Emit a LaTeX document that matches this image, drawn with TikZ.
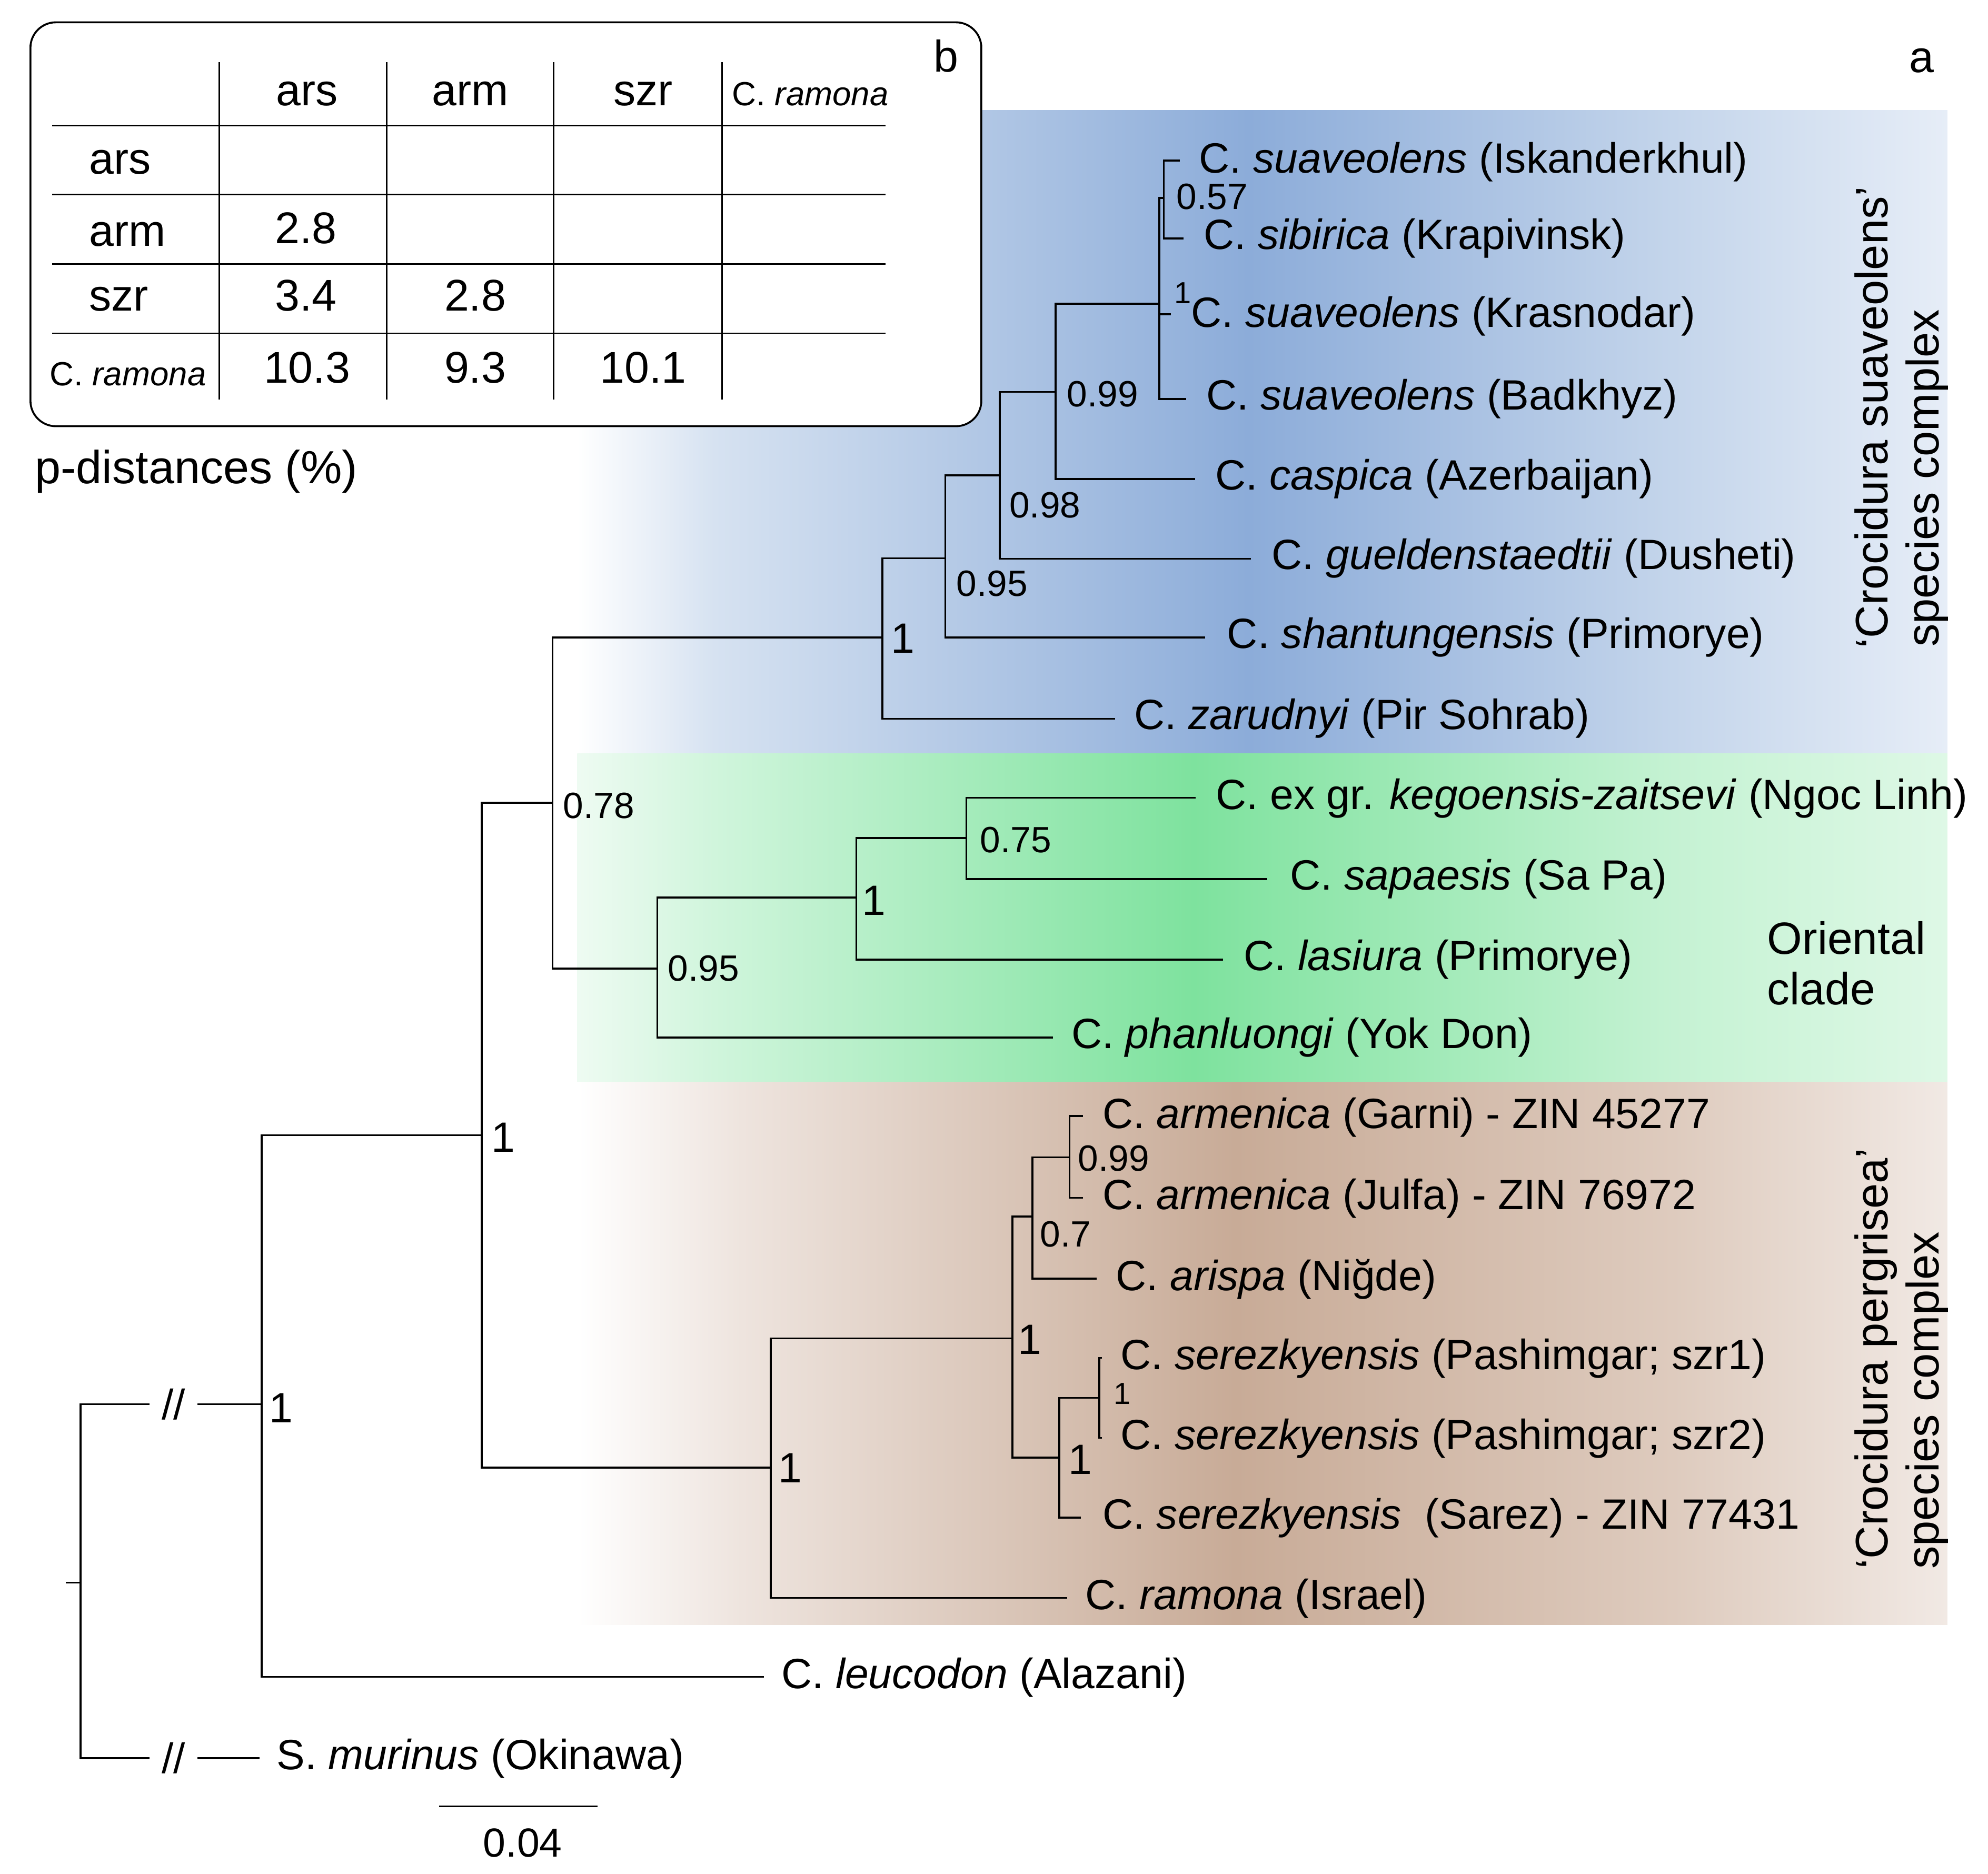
\documentclass[tikz,border=0pt]{standalone}
\usepackage{fontspec}
\setmainfont{Liberation Sans}
\newcommand\fsp{\fontsize{16.7}{19}\selectfont}
\newcommand\fsup{\fontsize{14.4}{16}\selectfont}
\newcommand\fsm{\fontsize{12}{14}\selectfont}
\newcommand\ftb{\fontsize{17.5}{20}\selectfont}
\newcommand\frot{\fontsize{18}{20}\selectfont}
\newcommand\ftbs{\fontsize{13.2}{15}\selectfont}
\newcommand\fbig{\fontsize{17.8}{20}\selectfont}
\newcommand\fpd{\fontsize{18.3}{20}\selectfont}
\newcommand\fsc{\fontsize{16}{19}\selectfont}
\definecolor{bl1}{RGB}{214,226,241}
\definecolor{blP}{RGB}{140,172,217}
\definecolor{bl2}{RGB}{196,213,235}
\definecolor{bl3}{RGB}{230,237,247}
\definecolor{gr0}{RGB}{238,251,242}
\definecolor{gr1}{RGB}{208,245,220}
\definecolor{grP}{RGB}{126,226,158}
\definecolor{gr2}{RGB}{197,242,211}
\definecolor{gr3}{RGB}{222,248,230}
\definecolor{br1}{RGB}{238,228,222}
\definecolor{brP}{RGB}{200,171,151}
\definecolor{br2}{RGB}{222,203,190}
\definecolor{br3}{RGB}{241,233,228}
\pgfdeclarehorizontalshading{blueshade}{100bp}{color(0bp)=(white); color(25bp)=(white); color(30bp)=(bl1); color(49.5bp)=(blP); color(65bp)=(bl2); color(75bp)=(bl3); color(100bp)=(bl3)}
\pgfdeclarehorizontalshading{greenshade}{100bp}{color(0bp)=(gr0); color(25bp)=(gr0); color(30bp)=(gr1); color(47.5bp)=(grP); color(65bp)=(gr2); color(75bp)=(gr3); color(100bp)=(gr3)}
\pgfdeclarehorizontalshading{brownshade}{100bp}{color(0bp)=(white); color(25bp)=(white); color(31bp)=(br1); color(49bp)=(brP); color(65bp)=(br2); color(75bp)=(br3); color(100bp)=(br3)}
\begin{document}
\begin{tikzpicture}[x=0.5pt,y=-0.5pt,
  br/.style={line width=0.72pt},
  tbl/.style={line width=0.6pt},
  lab/.style={inner sep=0pt, outer sep=0pt, anchor=base west, font=\fsp},
  sup/.style={inner sep=0pt, outer sep=0pt, anchor=base west, font=\fsup},
  supS/.style={inner sep=0pt, outer sep=0pt, anchor=base west, font=\fsm},
  supL/.style={inner sep=0pt, outer sep=0pt, anchor=base west, font=\fsp},
  tb/.style={inner sep=0pt, outer sep=0pt, anchor=base, font=\ftb},
  tbw/.style={inner sep=0pt, outer sep=0pt, anchor=base west, font=\ftb},
  rot/.style={inner sep=0pt, outer sep=0pt, anchor=base west, rotate=90, font=\frot},
  brk/.style={inner sep=0pt, outer sep=0pt, font=\fsp},
]
\useasboundingbox (0,0) rectangle (1567,1477);
% ---------- backgrounds
\shade[shading=blueshade] (455,87) rectangle (1535,594);
\shade[shading=greenshade] (455,594) rectangle (1535,853);
\shade[shading=brownshade] (455,853) rectangle (1535,1281);

% ---------- table (b)
\draw[line width=0.75pt, fill=white, rounded corners=10pt] (24,17.6) rectangle (773.5,336);
\foreach \yy in {98.8,153.4,208.2,262.7} \draw[tbl] (41,\yy) -- (698,\yy);
\foreach \xx in {173,304.8,436.5,569} \draw[tbl] (\xx,49) -- (\xx,315);
\node[tb] (h1) at (242,83) {ars};
\node[tb] (h2) at (370.6,83) {arm};
\node[tb] (h3) at (507,83) {szr};
\node[tb, font=\ftbs] (h4) at (638.7,83) {C. \textit{ramona}};
\node[tbw] (r1) at (70.4,137) {ars};
\node[tbw] (r2) at (70.4,194) {arm};
\node[tbw] (r3) at (70.4,245) {szr};
\node[tbw, font=\ftbs] (r4) at (39.2,304) {C. \textit{ramona}};
\node[tb] (v21) at (241,192) {2.8};
\node[tb] (v31) at (241,245) {3.4};
\node[tb] (v32) at (374.6,245) {2.8};
\node[tb] (v41) at (242,302) {10.3};
\node[tb] (v42) at (374.6,302) {9.3};
\node[tb] (v43) at (507,302) {10.1};
\node[tb] (lb) at (745.5,56.6) {b};
\node[tb] (la) at (1514.5,57) {a};
\node[tbw, font=\fpd] (pd) at (27.6,381) {p-distances (\%)};

% ---------- tree coordinates
\coordinate (L1) at (930,126.6);
\coordinate (L2) at (933,188);
\coordinate (L3) at (923,247.7);
\coordinate (L4) at (935,314.5);
\coordinate (L5) at (942,377.7);
\coordinate (L6) at (986,440.6);
\coordinate (L7) at (950,502.6);
\coordinate (L8) at (879,566.6);
\coordinate (L9) at (942.5,629);
\coordinate (L10) at (998.7,693);
\coordinate (L11) at (964,756.5);
\coordinate (L12) at (830,818);
\coordinate (L13) at (853.6,879.7);
\coordinate (L14) at (853.6,944.3);
\coordinate (L15) at (864.4,1008);
\coordinate (L16) at (868.5,1070.5);
\coordinate (L17) at (868.5,1133.6);
\coordinate (L18) at (852,1196.3);
\coordinate (L19) at (841,1259.7);
\coordinate (L20) at (602,1322);
\coordinate (L21) at (204.5,1386);

\coordinate (n57) at (917.4,156);
\coordinate (nSua) at (913.7,239.4);
\coordinate (n99) at (832,309);
\coordinate (n98) at (788,374.7);
\coordinate (n95a) at (745,440);
\coordinate (n1a) at (695.6,502.6);
\coordinate (n78) at (435.6,632.8);
\coordinate (nOri) at (518,763.5);
\coordinate (n1b) at (675,707.5);
\coordinate (n75) at (761.6,660.6);
\coordinate (nIn) at (379.8,895);
\coordinate (nPer) at (607.6,1157);
\coordinate (n1c) at (798,1055);
\coordinate (n07) at (813.7,959);
\coordinate (n99b) at (843,912.4);
\coordinate (n1d) at (835,1149);
\coordinate (nszr) at (866.4,1102);
\coordinate (nC) at (206.2,1107);
\coordinate (root) at (63.5,1247.7);
\coordinate (rstub) at (51.7,1247.7);
\coordinate (b1a) at (117.7,1107);
\coordinate (b1b) at (155.8,1107);
\coordinate (b2a) at (117.7,1386);
\coordinate (b2b) at (155.8,1386);

% ---------- branches
\begin{scope}[br]
\draw (n57) |- (L1); \draw (n57) |- (L2);
\draw (nSua) |- (n57); \draw (nSua) |- (L3); \draw (nSua) |- (L4);
\draw (n99) |- (nSua); \draw (n99) |- (L5);
\draw (n98) |- (n99); \draw (n98) |- (L6);
\draw (n95a) |- (n98); \draw (n95a) |- (L7);
\draw (n1a) |- (n95a); \draw (n1a) |- (L8);
\draw (n75) |- (L9); \draw (n75) |- (L10);
\draw (n1b) |- (n75); \draw (n1b) |- (L11);
\draw (nOri) |- (n1b); \draw (nOri) |- (L12);
\draw (n78) |- (n1a); \draw (n78) |- (nOri);
\draw (n99b) |- (L13); \draw (n99b) |- (L14);
\draw (n07) |- (n99b); \draw (n07) |- (L15);
\draw (nszr) |- (L16); \draw (nszr) |- (L17);
\draw (n1d) |- (nszr); \draw (n1d) |- (L18);
\draw (n1c) |- (n07); \draw (n1c) |- (n1d);
\draw (nPer) |- (n1c); \draw (nPer) |- (L19);
\draw (nIn) |- (n78); \draw (nIn) |- (nPer);
\draw (nC) |- (nIn); \draw (nC) |- (L20);
\draw (rstub) -- (root);
\draw (root) |- (b1a); \draw (b1b) -- (nC);
\draw (root) |- (b2a); \draw (b2b) -- (L21);
\end{scope}
\node[brk] (k1) at (136.7,1107) {//};
\node[brk] (k2) at (136.7,1386) {//};

% ---------- scale bar
\coordinate (sb1) at (346,1424);
\coordinate (sb2) at (471,1424);
\draw[br] (sb1) -- (sb2);
\node[tb, font=\fsc] (sbl) at (412,1464) {0.04};

% ---------- leaf labels
\node[lab] (t1) at (945,136.3) {C. \textit{suaveolens} (Iskanderkhul)};
\node[lab] (t2) at (949,196.5) {C. \textit{sibirica} (Krapivinsk)};
\node[lab] (t3) at (939,258) {C. \textit{suaveolens} (Krasnodar)};
\node[lab] (t4) at (951,323) {C. \textit{suaveolens} (Badkhyz)};
\node[lab] (t5) at (958,386) {C. \textit{caspica} (Azerbaijan)};
\node[lab] (t6) at (1002.5,449) {C. \textit{gueldenstaedtii} (Dusheti)};
\node[lab] (t7) at (967.3,511) {C. \textit{shantungensis} (Primorye)};
\node[lab] (t8) at (894,575) {C. \textit{zarudnyi} (Pir Sohrab)};
\node[lab] (t9) at (958.5,638) {C. ex gr. \textit{kegoensis-zaitsevi} (Ngoc Linh)};
\node[lab] (t10) at (1017,701.5) {C. \textit{sapaesis} (Sa Pa)};
\node[lab] (t11) at (980.5,765) {C. \textit{lasiura} (Primorye)};
\node[lab] (t12) at (844.5,826.5) {C. \textit{phanluongi} (Yok Don)};
\node[lab] (t13) at (869,889.5) {C. \textit{armenica} (Garni) - ZIN 45277};
\node[lab] (t14) at (869,953.5) {C. \textit{armenica} (Julfa) - ZIN 76972};
\node[lab] (t15) at (879.7,1017.5) {C. \textit{arispa} (Niğde)};
\node[lab] (t16) at (883.4,1079.5) {C. \textit{serezkyensis} (Pashimgar; szr1)};
\node[lab] (t17) at (883.4,1142.5) {C. \textit{serezkyensis} (Pashimgar; szr2)};
\node[lab] (t18) at (869,1205.5) {C. \textit{serezkyensis}\ \ (Sarez) - ZIN 77431};
\node[lab] (t19) at (855.6,1269) {C. \textit{ramona} (Israel)};
\node[lab] (t20) at (616,1331) {C. \textit{leucodon} (Alazani)};
\node[lab] (t21) at (218,1395) {S. \textit{murinus} (Okinawa)};

% ---------- support values
\node[sup] (s57) at (927.4,165) {0.57};
\node[supS] (s1k) at (925.5,239.4) {1};
\node[sup] (s99) at (841,320.4) {0.99};
\node[sup] (s98) at (795.6,408) {0.98};
\node[sup] (s95a) at (754,470) {0.95};
\node[supL] (s1a) at (702.3,514.6) {1};
\node[sup] (s78) at (444,645) {0.78};
\node[sup] (s75) at (772.6,672) {0.75};
\node[supL] (s1b) at (679.4,721.6) {1};
\node[sup] (s95b) at (526.6,773.5) {0.95};
\node[supL] (s1in) at (387.5,908) {1};
\node[sup] (s99b) at (849.8,923) {0.99};
\node[sup] (s07) at (820,983) {0.7};
\node[supL] (s1c) at (802.4,1067.6) {1};
\node[supS] (s1s) at (877.9,1107) {1};
\node[supL] (s1d) at (842.4,1162) {1};
\node[supL] (s1p) at (613.4,1169) {1};
\node[supL] (s1C) at (212.4,1121.6) {1};

% ---------- clade labels
\node[rot] (cs1) at (1488,511) {‘Crocidura suaveolens’};
\node[rot] (cs2) at (1528,510) {species complex};
\node[tbw, font=\fbig] (co1) at (1393,752) {Oriental};
\node[tbw, font=\fbig] (co2) at (1393,792) {clade};
\node[rot] (cp1) at (1488,1237) {‘Crocidura pergrisea’};
\node[rot] (cp2) at (1528,1237) {species complex};
\end{tikzpicture}
\end{document}
